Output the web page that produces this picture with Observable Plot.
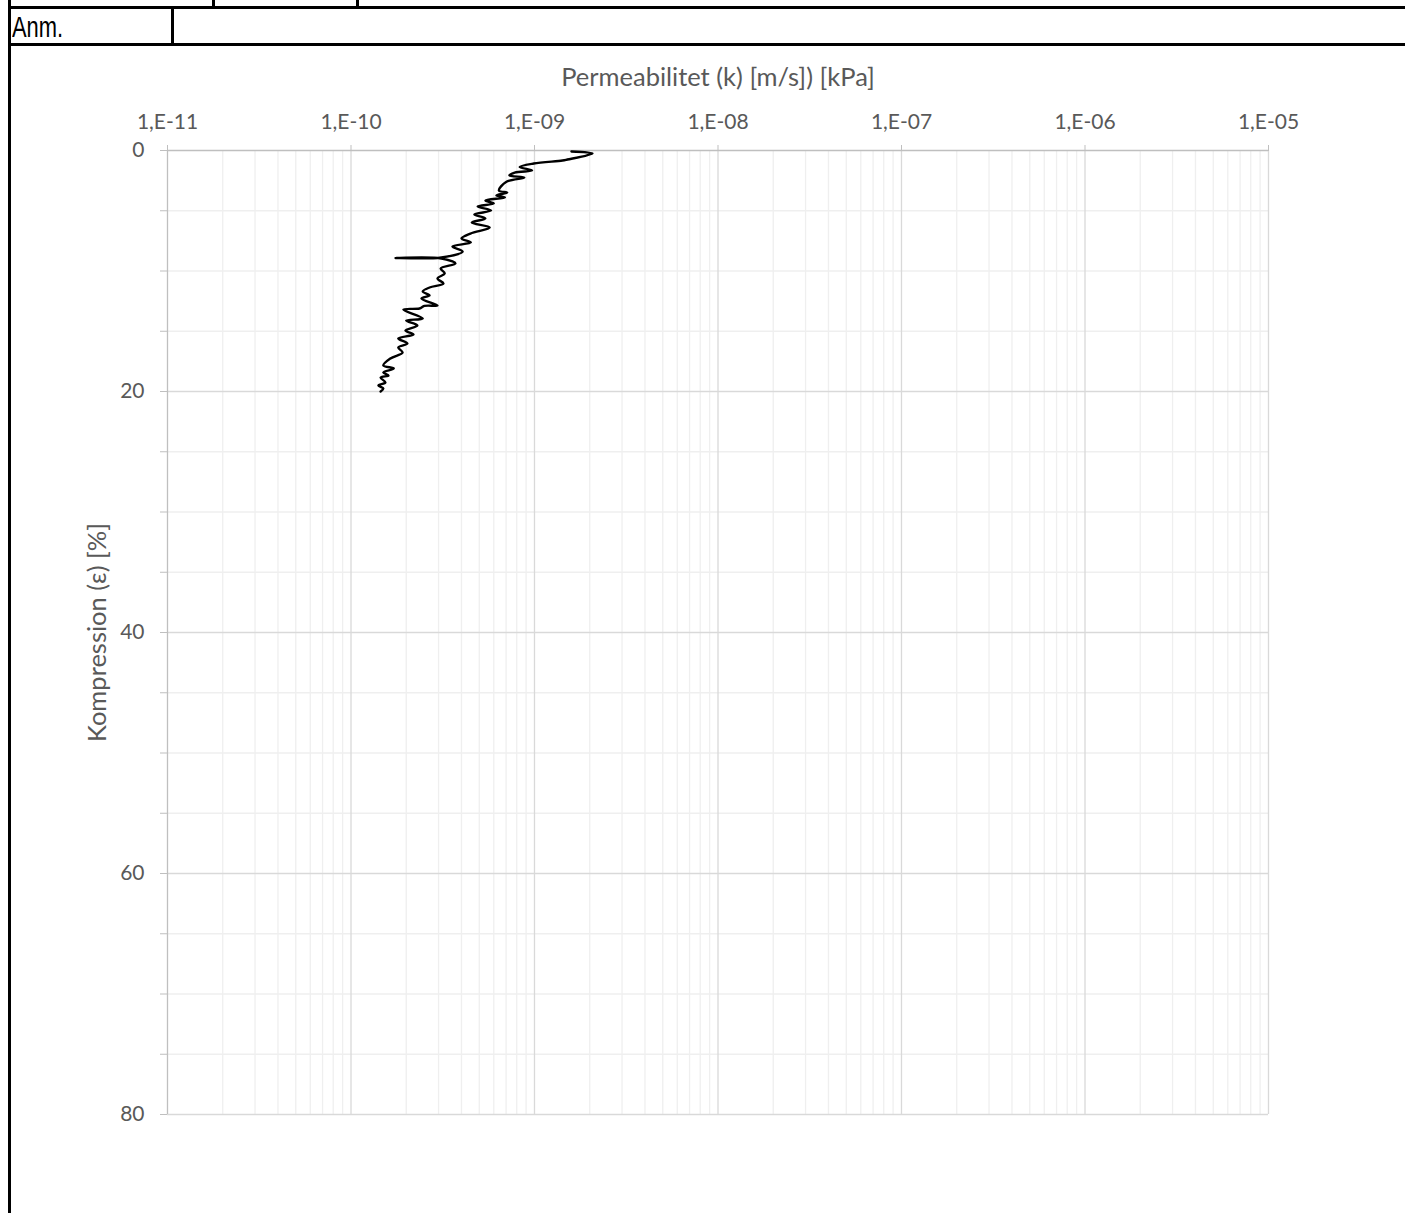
<!DOCTYPE html>
<html><head><meta charset="utf-8">
<script src="https://cdn.jsdelivr.net/npm/d3@7"></script>
<script src="https://cdn.jsdelivr.net/npm/@observablehq/plot@0.6"></script>
<style>
body{margin:0;background:#fff;}
#wrap{position:relative;width:1405px;height:1213px;overflow:hidden;background:#fff;}
.ln{position:absolute;background:#000;}
#anm{position:absolute;left:12px;top:12px;font-family:"Liberation Sans",Arial,sans-serif;font-size:30px;color:#000;line-height:30px;transform:scaleX(0.73);transform-origin:left top;}
#chart{position:absolute;left:0;top:0;}
</style></head><body><div id="wrap">
<div id="chart"></div>
<div class="ln" style="left:8px;top:0;width:3px;height:1213px"></div>
<div class="ln" style="left:8px;top:6px;width:1400px;height:3px"></div>
<div class="ln" style="left:8px;top:43px;width:1400px;height:3px"></div>
<div class="ln" style="left:212px;top:0;width:3px;height:8px"></div>
<div class="ln" style="left:356px;top:0;width:3px;height:8px"></div>
<div class="ln" style="left:171px;top:8px;width:3px;height:36px"></div>
<div id="anm">Anm.</div>
</div>
<script>
// Series: permeability k [m/s] vs compression eps [%]
const kValues = [1.59e-9, 2.07e-9, 1.51e-9, 1.42e-9, 9.9e-10, 8.3e-10, 9.7e-10, 7.8e-10, 7.3e-10, 8.8e-10,
  7.0e-10, 6.4e-10, 7.1e-10, 6.2e-10, 6.9e-10, 5.4e-10, 6.0e-10, 4.9e-10, 5.8e-10, 4.7e-10,
  5.4e-10, 4.55e-10, 5.7e-10, 4.48e-10, 4.0e-10, 4.5e-10, 3.57e-10, 4.06e-10, 3.11e-10, 1.75e-10,
  3.11e-10, 3.71e-10, 3.08e-10, 3.24e-10, 2.96e-10, 3.19e-10, 2.68e-10, 2.46e-10, 2.68e-10, 2.42e-10,
  2.96e-10, 2.51e-10, 2.36e-10, 1.93e-10, 2.46e-10, 2.0e-10, 2.30e-10, 1.98e-10, 2.19e-10, 1.81e-10,
  2.03e-10, 1.81e-10, 1.91e-10, 1.64e-10, 1.50e-10, 1.71e-10, 1.50e-10, 1.60e-10, 1.45e-10, 1.54e-10,
  1.41e-10, 1.50e-10, 1.45e-10];
const epsValues = [0.08, 0.25, 0.75, 0.83, 1.08, 1.37, 1.66, 1.83, 2.07, 2.24,
  2.61, 3.32, 3.49, 3.73, 3.90, 4.15, 4.40, 4.65, 4.98, 5.31,
  5.64, 5.98, 6.39, 6.89, 7.30, 7.63, 7.97, 8.38, 8.88, 8.92,
  8.96, 9.38, 9.79, 10.2, 10.62, 11.04, 11.37, 11.70, 12.03, 12.28,
  12.86, 12.9, 13.11, 13.2, 13.94, 14.11, 14.52, 14.94, 15.27, 15.60,
  16.02, 16.35, 16.76, 17.26, 17.84, 18.09, 18.42, 18.67, 18.84, 19.25,
  19.5, 19.75, 20.0];
const majorX = [1e-11, 1e-10, 1e-9, 1e-8, 1e-7, 1e-6, 1e-5];
const majorXLabels = ["1,E-11", "1,E-10", "1,E-09", "1,E-08", "1,E-07", "1,E-06", "1,E-05"];
const minorMultipliers = [2, 3, 4, 5, 6, 7, 8, 9];
const majorY = [0, 20, 40, 60, 80];
const minorY = [5, 10, 15, 25, 30, 35, 45, 50, 55, 65, 70, 75];
const xTitle = "Permeabilitet (k) [m/s]) [kPa]";
const yTitle = "Kompression (\u03b5) [%]";

const minorX = [];
majorX.slice(0, -1).forEach(d => minorMultipliers.forEach(m => minorX.push(m * d)));
const data = kValues.map((k, i) => ({k, eps: epsValues[i]}));
const font = "Lato, 'Open Sans', sans-serif";
const tc = "#595959";

const chart = Plot.plot({
  width: 1405, height: 1213,
  marginLeft: 167, marginRight: 137, marginTop: 150, marginBottom: 99,
  style: {fontFamily: font, background: "transparent", color: tc, overflow: "visible"},
  x: {type: "log", domain: [1e-11, 1e-5]},
  y: {domain: [0, 80], reverse: true},
  marks: [
    Plot.ruleX(minorX, {stroke: "#efefef", strokeWidth: 1.3}),
    Plot.ruleY(minorY, {stroke: "#efefef", strokeWidth: 1.3}),
    Plot.ruleX(majorX.slice(1), {stroke: "#d9d9d9", strokeWidth: 1.3}),
    Plot.ruleY(majorY.slice(1), {stroke: "#d9d9d9", strokeWidth: 1.3}),
    Plot.ruleX([majorX[0]], {stroke: "#bfbfbf", strokeWidth: 1.3}),
    Plot.ruleY([majorY[0]], {stroke: "#bfbfbf", strokeWidth: 1.3}),
    Plot.axisX(majorX, {anchor: "top", tickSize: 6, tickPadding: 16, stroke: "#bfbfbf", fill: tc, fontSize: 21,
      tickFormat: d => majorXLabels[majorX.indexOf(d)], label: null}),
    Plot.axisY(majorY, {anchor: "left", tickSize: 7, tickPadding: 16, stroke: "#bfbfbf", fill: tc, fontSize: 21, label: null}),
    Plot.axisY(minorY, {anchor: "left", tickSize: 7, stroke: "#bfbfbf", tickFormat: () => "", label: null}),
    Plot.text([xTitle], {frameAnchor: "top", lineAnchor: "middle", dy: -73, fontSize: 25.5, fill: tc, text: d => d}),
    Plot.text([yTitle], {frameAnchor: "left", textAnchor: "middle", lineAnchor: "middle", dx: -70, rotate: -90, fontSize: 25.5, fill: tc, text: d => d}),
    Plot.line(data, {x: "k", y: "eps", stroke: "#000", strokeWidth: 2.4, curve: "catmull-rom"})
  ]
});
document.getElementById("chart").appendChild(chart);
</script>
</body></html>
